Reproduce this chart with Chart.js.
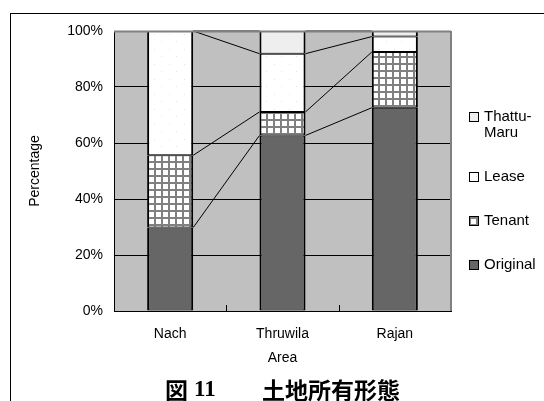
<!DOCTYPE html>
<html>
<head>
<meta charset="utf-8">
<script src="https://cdn.jsdelivr.net/npm/chart.js@4/dist/chart.umd.min.js"></script>
<style>
  html, body { margin: 0; padding: 0; background: #fff; }
  body { width: 544px; height: 401px; position: relative; overflow: hidden; }
  #frame { position: absolute; left: 10px; top: 13px; width: 700px; height: 600px;
           border-left: 1px solid #000; border-top: 1px solid #000; }
  #c { position: absolute; left: 0; top: 0; }
  .cap { position: absolute; top: 376px; font-weight: bold; font-size: 23px; line-height: 26px; color: #000; white-space: nowrap; }
  .cjk { font-family: "Noto Sans CJK JP", sans-serif; }
  .num { font-family: "Liberation Serif", serif; }
</style>
</head>
<body>
<div id="frame"></div>
<canvas id="c" width="544" height="401"></canvas>
<span class="cap cjk" style="left:165px">図</span>
<span class="cap num" style="left:194px">11</span>
<span class="cap cjk" style="left:262px">土地所有形態</span>
<script>
// Land ownership shares by area (percent of holdings)
const areas = ['Nach', 'Thruwila', 'Rajan'];
const original = [29.8, 62.7, 72.6];
const tenant = [25.8, 8.4, 19.9];
const lease = [44.4, 20.8, 5.5];
const thattuMaru = [0, 8.1, 2.0];
const yTicks = [0, 20, 40, 60, 80, 100];

const FONT = '"Liberation Sans", Arial, sans-serif';

// Fill patterns
function makePattern(size, paint) {
  const c = document.createElement('canvas');
  c.width = size; c.height = size;
  const g = c.getContext('2d');
  paint(g, size);
  return document.getElementById('c').getContext('2d').createPattern(c, 'repeat');
}
const gridPattern = makePattern(7, (g, s) => {
  g.fillStyle = '#ffffff'; g.fillRect(0, 0, s, s);
  g.fillStyle = '#808080';
  g.fillRect(0, 0, 2, s);
  g.fillRect(0, 0, s, 2);
});
const dotPattern = makePattern(15, (g, s) => {
  g.fillStyle = '#ffffff'; g.fillRect(0, 0, s, s);
  g.fillStyle = '#e4e4e4';
  g.fillRect(4, 4, 1, 1);
  g.fillRect(11, 11, 1, 1);
});

const segBorder = { left: 2, right: 2, top: 1, bottom: 1 };
function series(label, data, fill) {
  return { label, data, backgroundColor: fill, borderColor: '#000', borderWidth: segBorder,
           borderSkipped: false, categoryPercentage: 1, barPercentage: 0.41 };
}

// Plot area background and frame
const plotBackground = {
  id: 'plotBackground',
  beforeDraw(chart) {
    const { ctx, chartArea: a } = chart;
    ctx.save();
    ctx.fillStyle = '#c0c0c0';
    ctx.fillRect(a.left, a.top, a.right - a.left, a.bottom - a.top);
    ctx.restore();
  },
  afterDraw(chart) {
    const { ctx, chartArea: a } = chart;
    ctx.save();
    ctx.strokeStyle = '#808080';
    ctx.lineWidth = 2;
    ctx.beginPath();
    ctx.moveTo(a.left, a.top + 0.5);
    ctx.lineTo(a.right, a.top + 0.5);
    ctx.moveTo(a.right, a.top);
    ctx.lineTo(a.right, a.bottom);
    ctx.stroke();
    // inward category tick marks on the x axis
    const xs = chart.scales.x;
    ctx.strokeStyle = '#000';
    ctx.lineWidth = 1;
    ctx.beginPath();
    for (let i = 0; i < areas.length - 1; i++) {
      const x = Math.round((xs.getPixelForValue(i) + xs.getPixelForValue(i + 1)) / 2) + 0.5;
      ctx.moveTo(x, a.bottom);
      ctx.lineTo(x, a.bottom - 6);
    }
    ctx.stroke();
    ctx.restore();
  }
};

// Lines joining the tops of matching segments in neighbouring bars
const seriesLines = {
  id: 'seriesLines',
  afterDatasetsDraw(chart) {
    const { ctx } = chart;
    ctx.save();
    ctx.strokeStyle = '#000';
    ctx.lineWidth = 1;
    chart.data.datasets.forEach((ds, di) => {
      const bars = chart.getDatasetMeta(di).data;
      for (let i = 0; i < bars.length - 1; i++) {
        const p = bars[i].getProps(['x', 'y', 'width'], true);
        const q = bars[i + 1].getProps(['x', 'y', 'width'], true);
        ctx.beginPath();
        ctx.moveTo(p.x + p.width / 2, p.y);
        ctx.lineTo(q.x - q.width / 2, q.y);
        ctx.stroke();
      }
    });
    ctx.restore();
  }
};

// Legend on the right, last series first
const sideLegend = {
  id: 'sideLegend',
  afterDraw(chart) {
    const { ctx, chartArea: a } = chart;
    const labels = [['Thattu-', 'Maru'], ['Lease'], ['Tenant'], ['Original']];
    const fills = [chart.data.datasets[3].backgroundColor, chart.data.datasets[2].backgroundColor,
                   chart.data.datasets[1].backgroundColor, chart.data.datasets[0].backgroundColor];
    const bx = a.right + 18, tx = a.right + 33;
    let y = 117;
    ctx.save();
    ctx.font = '15px ' + FONT;
    ctx.textBaseline = 'middle';
    ctx.fillStyle = '#000';
    labels.forEach((lines, i) => {
      ctx.fillStyle = fills[i];
      ctx.fillRect(bx, y - 5, 10, 10);
      ctx.strokeStyle = '#000';
      ctx.lineWidth = 1;
      ctx.strokeRect(bx + 0.5, y - 4.5, 9, 9);
      ctx.fillStyle = '#000';
      lines.forEach((t, k) => ctx.fillText(t, tx, y + k * 16));
      y += 16 * (lines.length - 1) + 44;
    });
    ctx.restore();
  }
};

const chart = new Chart(document.getElementById('c'), {
  type: 'bar',
  data: {
    labels: areas,
    datasets: [
      series('Original', original, '#666666'),
      series('Tenant', tenant, gridPattern),
      series('Lease', lease, dotPattern),
      series('Thattu-Maru', thattuMaru, '#eeeeee')
    ]
  },
  options: {
    responsive: false,
    animation: false,
    events: [],
    layout: { padding: { top: 31, right: 93, bottom: 30, left: 0 } },
    plugins: { legend: { display: false }, tooltip: { enabled: false } },
    scales: {
      x: {
        stacked: true,
        grid: { display: false, drawTicks: false },
        border: { display: true, color: '#000', width: 1 },
        ticks: { color: '#000', font: { family: FONT, size: 14 }, padding: 15 },
        title: { display: true, text: 'Area', color: '#000', font: { family: FONT, size: 14 },
                 padding: { top: 0, bottom: 4 } },
        afterFit(s) { s.height = 60; }
      },
      y: {
        stacked: true,
        min: 0, max: 100,
        afterBuildTicks(s) { s.ticks = yTicks.map(v => ({ value: v })); },
        ticks: { color: '#000', font: { family: FONT, size: 14 }, padding: 11,
                 callback: v => v + '%' },
        grid: { color: c => (c.tick && c.tick.value === 100 ? '#808080' : '#000'),
                lineWidth: 1, drawTicks: false },
        border: { display: true, color: '#000', width: 1 },
        title: { display: true, text: 'Percentage', color: '#000', font: { family: FONT, size: 14 },
                 padding: { top: 27, bottom: 0 } },
        afterFit(s) { s.width = 114; }
      }
    }
  },
  plugins: [plotBackground, seriesLines, sideLegend]
});
</script>
</body>
</html>
